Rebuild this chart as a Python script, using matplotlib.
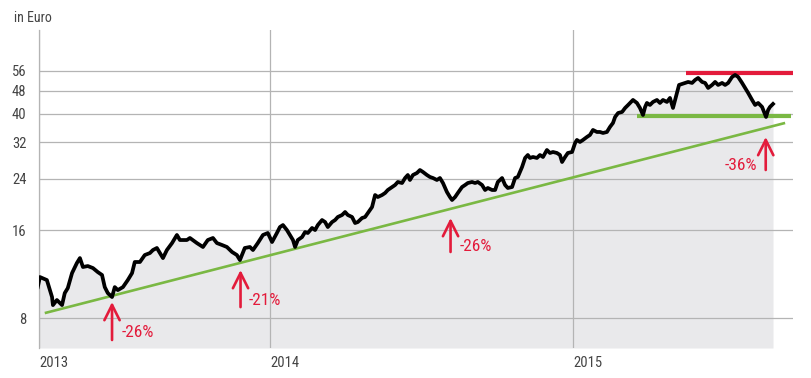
import matplotlib
matplotlib.use('Agg')
import matplotlib.pyplot as plt
from matplotlib import font_manager
from matplotlib.ticker import FixedLocator, NullLocator

# prefer a narrow face, the reference uses a condensed grotesk
names = set(f.name for f in font_manager.fontManager.ttflist)
narrow = [n for n in ['Liberation Sans Narrow', 'Roboto Condensed', 'Open Sans Condensed', 'DejaVu Sans'] if n in names]
plt.rcParams['font.family'] = narrow
plt.rcParams['font.stretch'] = 'condensed'

# price series, x in decimal years, y in euro
years = [
    2013.234, 2013.241, 2013.264, 2013.281, 2013.284, 2013.297, 2013.314, 2013.323, 2013.333, 2013.347,
    2013.363, 2013.373, 2013.383, 2013.399, 2013.416, 2013.432, 2013.446, 2013.455, 2013.465, 2013.479,
    2013.488, 2013.498, 2013.515, 2013.531, 2013.545, 2013.554, 2013.571, 2013.587, 2013.604, 2013.614,
    2013.627, 2013.637, 2013.647, 2013.660, 2013.677, 2013.693, 2013.703, 2013.726, 2013.736, 2013.759,
    2013.779, 2013.795, 2013.812, 2013.825, 2013.842, 2013.858, 2013.875, 2013.891, 2013.901, 2013.917,
    2013.934, 2013.944, 2013.960, 2013.977, 2013.993, 2014.007, 2014.023, 2014.033,
    2014.043, 2014.056, 2014.066, 2014.076, 2014.083, 2014.092, 2014.106, 2014.116, 2014.125, 2014.139,
    2014.149, 2014.158, 2014.172, 2014.182, 2014.191, 2014.205, 2014.215, 2014.224, 2014.238, 2014.248,
    2014.257, 2014.271, 2014.281, 2014.290, 2014.304, 2014.314, 2014.323, 2014.337, 2014.347, 2014.356,
    2014.370, 2014.380, 2014.389, 2014.403, 2014.413, 2014.422, 2014.436, 2014.446, 2014.455,
    2014.462, 2014.472, 2014.485, 2014.495, 2014.505, 2014.518, 2014.528, 2014.538, 2014.551, 2014.561,
    2014.571, 2014.584, 2014.594, 2014.601, 2014.611, 2014.620, 2014.634, 2014.644, 2014.653, 2014.667,
    2014.677, 2014.686, 2014.700, 2014.710, 2014.719, 2014.733, 2014.743, 2014.752, 2014.766, 2014.776,
    2014.785, 2014.799, 2014.809, 2014.818, 2014.832, 2014.842, 2014.851,
    2014.858, 2014.868, 2014.881, 2014.891, 2014.901, 2014.914, 2014.924, 2014.934, 2014.947, 2014.957,
    2014.964, 2014.974, 2014.983, 2014.997, 2015.007, 2015.013, 2015.023, 2015.033, 2015.046, 2015.056,
    2015.066, 2015.079, 2015.089, 2015.099, 2015.112, 2015.122, 2015.132, 2015.139, 2015.149, 2015.162,
    2015.172, 2015.182, 2015.198, 2015.211, 2015.221, 2015.231, 2015.238,
    2015.244, 2015.254, 2015.264, 2015.277, 2015.287, 2015.297, 2015.310, 2015.320, 2015.330, 2015.343,
    2015.350, 2015.360, 2015.370, 2015.380, 2015.393, 2015.403, 2015.413, 2015.426, 2015.436, 2015.446,
    2015.459, 2015.469, 2015.479, 2015.492, 2015.502, 2015.512, 2015.525, 2015.535, 2015.545, 2015.558,
    2015.568, 2015.578, 2015.591, 2015.601, 2015.611, 2015.624, 2015.637, 2015.644, 2015.650, 2015.660,
]
price = [
    10.21, 11.05, 10.79, 9.44, 8.86, 9.22, 8.86, 9.74, 10.13, 11.40,
    12.34, 12.83, 11.96, 12.05, 11.86, 11.49, 11.23, 10.21, 9.74, 9.44,
    10.21, 9.97, 10.21, 10.79, 11.40, 12.44, 12.44, 13.14, 13.35, 13.67,
    13.89, 13.35, 12.83, 13.67, 14.44, 15.39, 14.79, 14.79, 15.03, 14.44,
    14.00, 14.79, 15.03, 14.44, 14.22, 14.00, 13.46, 13.14, 12.63, 13.89,
    14.00, 13.67, 14.44, 15.39, 15.63, 14.56, 15.63, 16.38,
    16.64, 16.00, 15.39, 14.79, 14.00, 14.79, 15.14, 15.75, 15.63, 16.26,
    16.00, 16.64, 17.31, 17.04, 16.38, 17.04, 17.31, 17.73, 18.01, 18.44,
    18.01, 17.73, 16.91, 17.04, 17.59, 17.73, 18.29, 19.18, 21.08, 20.75,
    21.08, 21.42, 21.93, 22.45, 22.81, 23.36, 23.17, 24.10, 24.68,
    23.73, 24.68, 25.07, 25.67, 25.27, 24.68, 24.30, 24.10, 23.73, 24.10,
    23.17, 21.59, 20.75, 20.27, 20.75, 21.42, 22.45, 22.81, 23.17, 23.36,
    23.17, 23.36, 22.81, 21.93, 22.28, 21.93, 21.93, 23.36, 24.10, 22.81,
    22.28, 22.45, 24.10, 24.30, 26.29, 28.22, 28.89,
    28.22, 28.44, 28.22, 28.89, 28.44, 30.05, 29.35, 29.58, 29.35, 28.89,
    27.34, 28.44, 29.35, 29.58, 31.76, 32.52, 32.01, 32.52, 33.29, 33.82,
    35.18, 34.63, 34.63, 34.36, 34.63, 36.02, 37.18, 38.98, 40.22, 40.54,
    41.84, 42.84, 44.56, 43.52, 41.84, 39.59, 42.17,
    43.52, 42.84, 43.86, 44.56, 43.52, 44.56, 43.86, 45.27, 41.84, 47.09,
    50.15, 50.55, 50.95, 51.35, 50.95, 52.16, 52.99, 51.35, 50.95, 48.98,
    50.15, 51.35, 50.15, 50.95, 50.15, 50.95, 53.41, 54.26, 53.41, 50.95,
    48.98, 47.09, 44.56, 42.84, 43.52, 42.17, 38.98, 41.18, 42.17, 43.18,
]

# support / resistance lines
trend_x = [2013.257, 2015.700]
trend_y = [8.32, 37.18]
support_x = [2015.211, 2015.719]
support_y = [39.29, 39.29]
resist_x = [2015.373, 2015.726]
resist_y = [55.12, 55.12]

# drawdown arrows: x, tip, tail, label, label x, label y, alignment
arrow_x = [2013.479, 2013.903, 2014.596, 2015.636]
arrow_tip = [9.08, 11.68, 17.59, 33.29]
arrow_tail = [6.73, 8.72, 13.46, 25.67]
arrow_labels = ['-26%', '-21%', '-26%', '-36%']
label_x = [2013.512, 2013.931, 2014.627, 2015.607]
label_y = [7.16, 9.22, 14.00, 26.70]
label_ha = ['left', 'left', 'left', 'right']

yticks = [8, 16, 24, 32, 40, 48, 56]
xticks = [2013.238, 2014, 2015]
xlabels = ['2013', '2014', '2015']

red = '#e31b3b'
green = '#7ab843'
grid_c = '#b4b4b4'
text_c = '#444444'

fig = plt.figure(figsize=(8.11, 3.78), dpi=100)
ax = fig.add_axes([39 / 811, 1 - 348 / 378, (793 - 39) / 811, (348 - 30) / 378])

ax.set_yscale('log')
ax.set_ylim(6.32, 77.3)
ax.set_xlim(2013.238, 2015.726)

ax.fill_between(years, price, 6.32, color='#e9e9eb', lw=0, zorder=0.2)
ax.plot(trend_x, trend_y, color=green, lw=1.9, zorder=2, solid_capstyle='butt')
ax.plot(support_x, support_y, color=green, lw=3, zorder=2, solid_capstyle='butt')
ax.plot(resist_x, resist_y, color=red, lw=3, zorder=2, solid_capstyle='butt')
ax.plot(years, price, color='black', lw=2.7, zorder=3, solid_joinstyle='round')

for i in range(len(arrow_x)):
    ax.annotate('', xy=(arrow_x[i], arrow_tip[i]), xytext=(arrow_x[i], arrow_tail[i]),
                arrowprops=dict(arrowstyle='->,head_length=1.1,head_width=0.55',
                                color=red, lw=1.9, shrinkA=0, shrinkB=0), zorder=4)
    ax.text(label_x[i], label_y[i], arrow_labels[i], color=red, fontsize=12.5,
            ha=label_ha[i], va='center', zorder=4)

ax.yaxis.set_major_locator(FixedLocator(yticks))
ax.yaxis.set_minor_locator(NullLocator())
ax.set_yticklabels([str(t) for t in yticks])
ax.set_xticks(xticks)
ax.set_xticklabels(xlabels)
for lab in ax.get_xticklabels():
    lab.set_horizontalalignment('left')

ax.set_axisbelow(True)
ax.grid(True, color=grid_c, lw=0.9)
ax.tick_params(length=0, labelsize=10.5, colors=text_c, pad=9)
ax.tick_params(axis='x', pad=6)
for s in ['top', 'right', 'bottom']:
    ax.spines[s].set_visible(False)
ax.spines['left'].set_color(grid_c)
ax.spines['left'].set_linewidth(0.9)

fig.text(14 / 811, 1 - 18 / 378, 'in Euro', fontsize=10, color=text_c, va='center', ha='left')

fig.savefig('out.png', dpi=100)
